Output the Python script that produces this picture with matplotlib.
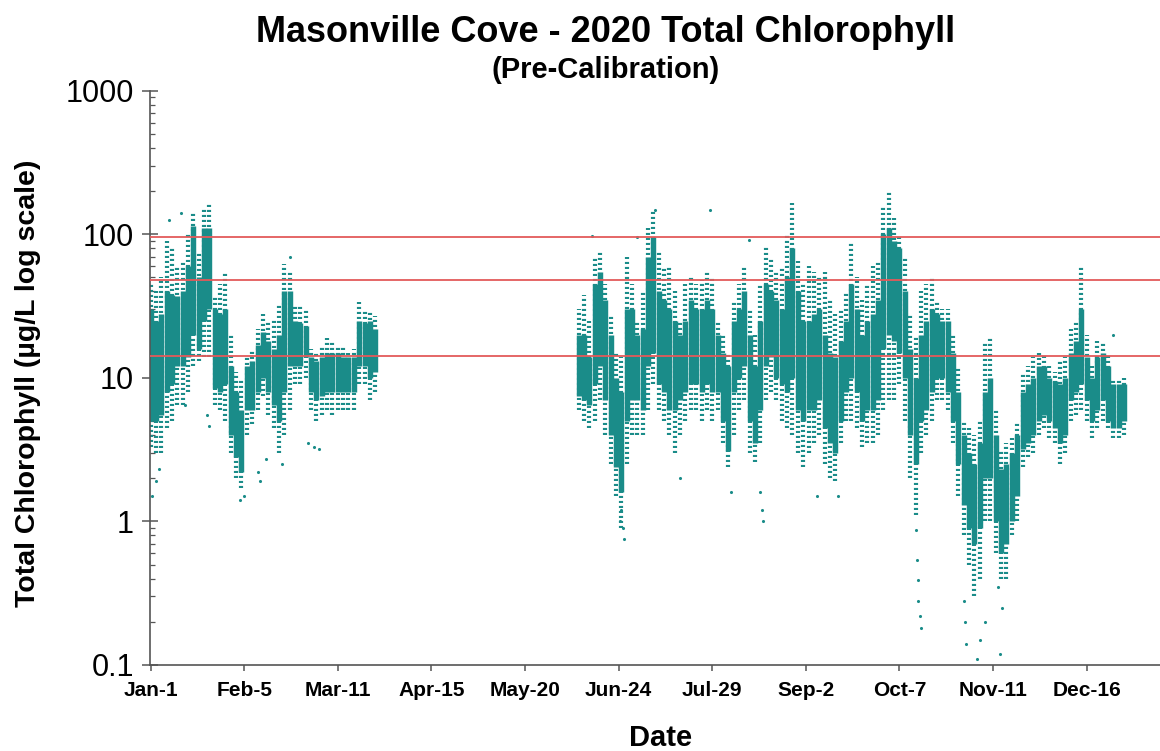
import matplotlib
matplotlib.use("Agg")
import matplotlib.pyplot as plt
from matplotlib.ticker import LogLocator, NullFormatter, FixedLocator

plt.rcParams['font.family'] = ['Liberation Sans', 'DejaVu Sans']

# day of year (Jan-1 = 0), 2-day blocks
# values in ug/L: outer low, core low, core high, outer high
winter_days = list(range(0, 86, 2))
winter_olo = [3.3, 3, 3, 4.5, 5, 6.5, 6.5, 8, 12, 13, 14, 14, 6.5, 6, 5, 3, 2, 1.7, 4, 4.8, 6, 7.5,
              5.5, 4.5, 3, 4, 6, 9, 9, 10, 6, 5, 5.5, 6, 5.5, 6, 6, 6, 6, 9, 9, 7, 8]
winter_clo = [5, 5, 5.5, 8, 9, 12, 12, 14, 20, 16, 25, 30, 8.5, 8, 9, 4, 2.8, 2.2, 6, 6, 8, 10,
              8, 6.5, 5, 8, 12, 12, 12, 14, 8, 7, 7.5, 8, 8, 8, 8, 8, 8, 12, 12, 10, 11]
winter_chi = [30, 25, 28, 40, 38, 37, 40, 60, 115, 50, 110, 110, 30, 28, 30, 12, 8, 6, 12, 13, 17, 21,
              18, 16, 20, 40, 40, 25, 24, 23, 14, 13, 14, 15, 15, 15, 14, 14, 14, 25, 24, 25, 22]
winter_ohi = [45, 40, 50, 90, 80, 60, 65, 100, 140, 75, 150, 165, 38, 45, 55, 20, 11, 10, 14, 16, 22, 28,
              25, 26, 32, 62, 55, 32, 32, 30, 16, 15, 17, 19, 18, 17, 17, 15, 16, 34, 30, 29, 27]

summer_days = list(range(160, 366, 2))
summer_olo = [6, 5, 4.5, 5, 7, 4, 2.5, 1.5, 0.9, 2.5, 4, 4, 4, 6, 9, 6, 5, 4, 3, 4, 5, 6, 6, 5, 6, 5,
              6, 3.5, 2.4, 4, 6, 7, 3, 2.6, 3.5, 7, 8, 7, 5, 4.5, 4, 3, 2.4, 3, 3.5, 4, 2.5, 2, 1.9, 3.5, 5, 5,
              4.5, 3.3, 3.5, 3.5, 4, 6, 7, 7, 9, 5, 2, 1.1, 3, 4, 5, 7, 7, 6, 3.5, 1.5, 0.8, 0.5, 0.3, 0.4, 1, 1,
              0.6, 0.4, 0.4, 0.8, 1, 2.4, 2.8, 3, 4, 4.5, 3.8, 3.5, 2.5, 3, 5, 5.5, 6, 5, 3.8, 4.5, 5, 4.5, 3.8, 3.8, 4]
summer_clo = [7.5, 7, 6.5, 9, 12, 7, 4, 2.4, 1.6, 5, 7, 7, 6, 12, 15, 9, 8, 6, 6, 7, 8, 9, 9, 8, 9, 8,
              8, 5, 3.1, 8, 10, 12, 5, 3.5, 6, 12, 14, 10, 9, 8, 10, 6, 5, 6, 6, 7, 4.5, 3.5, 3, 5, 8, 10,
              8, 5, 6, 6, 7, 16, 20, 18, 15, 10, 4, 2.5, 5, 6, 8, 10, 10, 8, 5, 2.5, 1.3, 0.9, 0.7, 0.9, 2, 2,
              1, 0.6, 0.7, 1, 1.5, 3.2, 3.5, 4, 5, 5.5, 5, 4.5, 3.5, 4, 7, 8, 9, 7, 5, 6, 7, 5, 4.5, 4.5, 5]
summer_chi = [20, 20, 14, 45, 55, 35, 20, 10, 8, 30, 30, 20, 22, 70, 95, 40, 35, 30, 25, 20, 25, 35, 30, 30, 35, 30,
              20, 15, 12, 25, 30, 40, 20, 12, 25, 45, 40, 35, 30, 50, 80, 40, 25, 25, 28, 30, 20, 15, 14, 18, 25, 45,
              30, 20, 25, 28, 35, 100, 110, 90, 80, 40, 16, 10, 20, 25, 30, 28, 25, 25, 15, 8, 4, 3, 2.5, 3.5, 8, 10,
              4, 2.3, 2.5, 3, 4, 8, 9, 10, 12, 12, 10, 9.5, 9, 10, 15, 18, 30, 14, 10, 14, 15, 12, 9, 9, 9]
summer_ohi = [30, 38, 25, 70, 75, 45, 28, 15, 14, 70, 45, 25, 40, 110, 150, 75, 60, 60, 40, 25, 45, 50, 45, 48, 55, 50,
              25, 20, 15, 35, 45, 60, 30, 20, 45, 82, 70, 55, 60, 100, 165, 65, 45, 60, 55, 50, 55, 35, 28, 30, 40, 88,
              50, 35, 45, 60, 65, 160, 200, 130, 100, 70, 28, 20, 40, 45, 50, 35, 30, 30, 20, 12, 5, 4.5, 4, 5, 18, 19,
              6, 3.2, 3.5, 3.8, 5, 11, 12, 14, 15, 15, 12, 11, 13, 14, 22, 25, 60, 20, 12, 18, 18, 15, 10, 10, 10]

# isolated readings away from the main cloud
stray_days = [0.5, 2, 3, 7, 11.5, 13, 21, 22, 33.5, 35, 40, 41, 43, 49, 52, 59, 61, 63,
              165, 175.5, 176, 176.5, 177, 181.7, 188.5, 198, 209, 217, 223.6, 228, 228.5, 229, 249, 257,
              286, 286.5, 287, 287, 287.5, 288, 304, 304.5, 305, 309, 310, 312, 317, 317.7, 318.2, 360]
stray_vals = [1.5, 1.9, 2.3, 125, 140, 6.5, 5.5, 4.6, 1.4, 1.5, 2.2, 1.9, 2.7, 2.5, 70, 3.5, 3.3, 3.2,
              98, 1.0, 1.2, 0.9, 0.75, 96, 148, 2.0, 148, 1.6, 91, 1.6, 1.2, 1.0, 1.5, 1.5,
              0.87, 0.54, 0.39, 0.28, 0.22, 0.18, 0.28, 0.2, 0.14, 0.11, 0.15, 0.2, 0.35, 0.12, 0.25, 20]

ref_levels = [95, 48, 14.2]

tick_days = [0, 35, 70, 105, 140, 175, 210, 245, 280, 315, 350]
tick_labels = ["Jan-1", "Feb-5", "Mar-11", "Apr-15", "May-20", "Jun-24", "Jul-29",
               "Sep-2", "Oct-7", "Nov-11", "Dec-16"]

teal = "#1a8c89"
red = "#e35a5a"

fig = plt.figure(figsize=(11.6, 7.51), dpi=100)
ax = fig.add_axes([150 / 1160, 1 - 665 / 751, 1010 / 1160, (665 - 90.7) / 751])

for d, olo, clo, chi, ohi in [(winter_days, winter_olo, winter_clo, winter_chi, winter_ohi),
                               (summer_days, summer_olo, summer_clo, summer_chi, summer_ohi)]:
    ax.vlines(d, olo, ohi, color=teal, linewidth=3.0, linestyles=(0, (0.5, 0.7)))
    ax.vlines(d, clo, chi, color=teal, linewidth=3.9)
ax.scatter(stray_days, stray_vals, s=5, color=teal, linewidths=0)

for lvl in ref_levels:
    ax.axhline(lvl, color=red, linewidth=1.3, zorder=5)

ax.set_yscale("log")
ax.set_ylim(0.1, 1000)
ax.set_xlim(-0.2, 377.4)

ax.yaxis.set_minor_locator(LogLocator(base=10, subs=range(2, 10), numticks=50))
ax.yaxis.set_minor_formatter(NullFormatter())
ax.set_yticks([0.1, 1, 10, 100, 1000])
ax.set_yticklabels(["0.1", "1", "10", "100", "1000"])
ax.xaxis.set_major_locator(FixedLocator(tick_days))
ax.set_xticklabels(tick_labels, fontweight="bold")

for s in ["top", "right"]:
    ax.spines[s].set_visible(False)
for s in ["left", "bottom"]:
    ax.spines[s].set_color("#555555")
    ax.spines[s].set_linewidth(1.2)

ax.tick_params(axis="y", which="major", direction="inout", length=11, width=1.1,
               color="#555555", labelsize=22, pad=6)
ax.tick_params(axis="y", which="minor", direction="in", length=3.8, width=0.9, color="#555555")
ax.tick_params(axis="x", which="major", direction="out", length=4.5, width=1.1,
               color="#555555", labelsize=15, pad=7)

fig.text(0.522, 1 - 32 / 751, "Masonville Cove - 2020 Total Chlorophyll", ha="center", va="center",
         fontsize=26, fontweight="bold")
fig.text(0.522, 1 - 70 / 751, "(Pre-Calibration)", ha="center", va="center",
         fontsize=21, fontweight="bold")
fig.text(28 / 1160, 1 - 383 / 751, "Total Chlorophyll (\u00b5g/L log scale)", ha="center", va="center",
         rotation=90, fontsize=20.5, fontweight="bold")
fig.text(661 / 1160, 1 - 738 / 751, "Date", ha="center", va="center", fontsize=21, fontweight="bold")

fig.savefig("out.png", dpi=100)
